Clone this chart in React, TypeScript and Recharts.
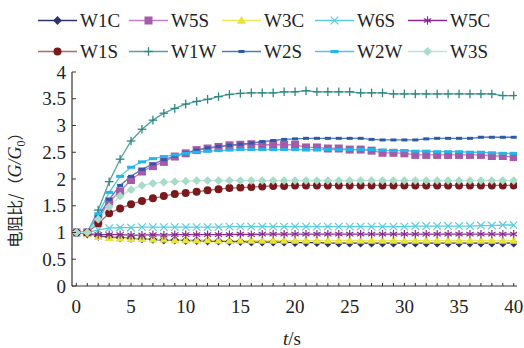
import React from 'react';
import { LineChart, Line, XAxis, YAxis } from 'recharts';

const T = [0,1,2,3,4,5,6,7,8,9,10,11,12,13,14,15,16,17,18,19,20,21,22,23,24,25,26,27,28,29,30,31,32,33,34,35,36,37,38,39,40];

const W1C = [1.00,0.97,0.93,0.92,0.90,0.89,0.88,0.87,0.86,0.86,0.85, 0.85,0.84,0.84,0.83,0.83,0.82,0.82,0.82,0.82,0.81, 0.81,0.81,0.80,0.80,0.80,0.80,0.80,0.80,0.80,0.80, 0.80,0.80,0.80,0.80,0.80,0.80,0.80,0.80,0.80,0.80];
const W5S = [1.00,1.00,1.25,1.58,1.77,1.98,2.14,2.24,2.32,2.42, 2.48,2.54,2.57,2.60,2.63,2.64,2.65,2.64,2.64,2.64, 2.64,2.59,2.59,2.57,2.57,2.55,2.55,2.53,2.49,2.49, 2.48,2.45,2.45,2.45,2.45,2.45,2.45,2.45,2.43,2.43,2.41];
const W3C = [1.00,0.97,0.92,0.90,0.89,0.88,0.88,0.87,0.87,0.86,0.86, 0.86,0.86,0.85,0.85,0.85,0.85,0.85,0.85,0.85,0.85, 0.85,0.85,0.85,0.85,0.85,0.85,0.85,0.85,0.85,0.85, 0.85,0.85,0.85,0.85,0.85,0.85,0.85,0.85,0.85,0.85];
const W6S = [1.00,1.00,1.05,1.08,1.09,1.09,1.10,1.10,1.10,1.10,1.10, 1.10,1.10,1.10,1.11,1.11,1.11,1.11,1.11,1.11,1.11, 1.11,1.11,1.11,1.11,1.11,1.11,1.11,1.11,1.11,1.11, 1.12,1.12,1.12,1.12,1.12,1.12,1.13,1.13,1.14,1.14];
const W5C = [1.00,0.98,0.96,0.96,0.96,0.95,0.95,0.96,0.95,0.96,0.96, 0.96,0.96,0.96,0.96,0.97,0.96,0.97,0.97,0.97,0.97, 0.97,0.97,0.97,0.97,0.97,0.97,0.97,0.97,0.97,0.97, 0.97,0.97,0.97,0.97,0.97,0.97,0.97,0.97,0.97,0.97];
const W1S = [1.00,1.00,1.17,1.36,1.45,1.53,1.59,1.64,1.68,1.72,1.74, 1.76,1.79,1.81,1.83,1.84,1.85,1.86,1.87,1.87,1.88, 1.88,1.88,1.88,1.88,1.88,1.88,1.88,1.88,1.88,1.88, 1.88,1.88,1.88,1.88,1.88,1.88,1.88,1.88,1.88,1.88];
const W1W = [1.00,1.00,1.42,1.95,2.37,2.71,2.93,3.10,3.23,3.32,3.40, 3.45,3.49,3.54,3.58,3.60,3.61,3.61,3.61,3.63,3.63, 3.65,3.63,3.63,3.63,3.63,3.61,3.61,3.61,3.59,3.59, 3.59,3.59,3.59,3.59,3.59,3.59,3.59,3.59,3.56,3.56];
const W2S = [1.00,1.00,1.30,1.62,1.88,2.05,2.18,2.28,2.36,2.43,2.49, 2.54,2.58,2.61,2.63,2.65,2.67,2.70,2.72,2.74,2.75, 2.76,2.76,2.76,2.76,2.76,2.76,2.74,2.73,2.73,2.73, 2.73,2.75,2.76,2.76,2.76,2.76,2.78,2.78,2.78,2.78];
const W2W = [1.00,1.00,1.35,1.75,2.05,2.22,2.32,2.38,2.42,2.45,2.48, 2.50,2.52,2.53,2.54,2.55,2.55,2.55,2.55,2.55,2.55, 2.55,2.55,2.55,2.55,2.55,2.55,2.55,2.54,2.53,2.53, 2.52,2.52,2.51,2.51,2.51,2.50,2.50,2.49,2.48,2.48];
const W3S = [1.00,1.00,1.25,1.48,1.68,1.80,1.88,1.92,1.94,1.95,1.96, 1.97,1.97,1.97,1.97,1.97,1.97,1.97,1.97,1.97,1.97, 1.97,1.97,1.97,1.97,1.97,1.97,1.97,1.97,1.97,1.97, 1.97,1.97,1.97,1.97,1.97,1.97,1.97,1.97,1.97,1.97];

const X_TICKS = T;
const X_LABEL_EVERY = 5;
const Y_TICKS = [0, 0.5, 1, 1.5, 2, 2.5, 3, 3.5, 4];

const FONT = "'Liberation Serif', serif";
const CJK = "'Noto Sans CJK SC', sans-serif";

type Shape = 'diamond' | 'square' | 'triangle' | 'x' | 'asterisk' | 'circle' | 'plus' | 'dash' | 'dashWide';

const SERIES: { name: string; values: number[]; line: string; marker: string; shape: Shape }[] = [
  { name: 'W1C', values: W1C, line: '#2e3566', marker: '#2e3566', shape: 'diamond' },
  { name: 'W5S', values: W5S, line: '#c47ccc', marker: '#a45ba8', shape: 'square' },
  { name: 'W3C', values: W3C, line: '#ece85a', marker: '#e8e23a', shape: 'triangle' },
  { name: 'W6S', values: W6S, line: '#5ccbdc', marker: '#5ccbdc', shape: 'x' },
  { name: 'W5C', values: W5C, line: '#8a2a8f', marker: '#8a2a8f', shape: 'asterisk' },
  { name: 'W1S', values: W1S, line: '#b06a6a', marker: '#7a1a1e', shape: 'circle' },
  { name: 'W1W', values: W1W, line: '#55a19c', marker: '#2f8783', shape: 'plus' },
  { name: 'W2S', values: W2S, line: '#5077c0', marker: '#2a5aa8', shape: 'dash' },
  { name: 'W2W', values: W2W, line: '#4cc6ee', marker: '#22b6ea', shape: 'dashWide' },
  { name: 'W3S', values: W3S, line: '#bde4d6', marker: '#a8dcc8', shape: 'diamond' },
];

const data = T.map((t, i) => {
  const row: Record<string, number> = { t };
  SERIES.forEach((s) => { row[s.name] = s.values[i]; });
  return row;
});

function Marker({ cx, cy, shape, color }: { cx: number; cy: number; shape: Shape; color: string }) {
  switch (shape) {
    case 'diamond': {
      const r = 4.4;
      return <polygon points={`${cx},${cy - r} ${cx + r},${cy} ${cx},${cy + r} ${cx - r},${cy}`} fill={color} />;
    }
    case 'square':
      return <rect x={cx - 4} y={cy - 4} width={8} height={8} fill={color} />;
    case 'triangle': {
      const r = 4.5;
      return <polygon points={`${cx},${cy - r} ${cx + r},${cy + r * 0.7} ${cx - r},${cy + r * 0.7}`} fill={color} />;
    }
    case 'x': {
      const r = 3.8;
      return (
        <g stroke={color} strokeWidth={1.2}>
          <line x1={cx - r} y1={cy - r} x2={cx + r} y2={cy + r} />
          <line x1={cx - r} y1={cy + r} x2={cx + r} y2={cy - r} />
        </g>
      );
    }
    case 'asterisk': {
      const r = 4.2;
      const a = r * 0.87;
      const b = r * 0.5;
      return (
        <g stroke={color} strokeWidth={1.2}>
          <line x1={cx} y1={cy - r} x2={cx} y2={cy + r} />
          <line x1={cx - a} y1={cy - b} x2={cx + a} y2={cy + b} />
          <line x1={cx - a} y1={cy + b} x2={cx + a} y2={cy - b} />
        </g>
      );
    }
    case 'circle':
      return <circle cx={cx} cy={cy} r={4} fill={color} />;
    case 'plus': {
      const r = 4.3;
      return (
        <g stroke={color} strokeWidth={1.3}>
          <line x1={cx - r} y1={cy} x2={cx + r} y2={cy} />
          <line x1={cx} y1={cy - r} x2={cx} y2={cy + r} />
        </g>
      );
    }
    case 'dash':
      return <rect x={cx - 3} y={cy - 1.5} width={6} height={3} fill={color} />;
    case 'dashWide':
      return <rect x={cx - 4} y={cy - 1.5} width={8} height={3} fill={color} />;
  }
  return null;
}

const XTick = (props: any) => {
  const { x, y, payload } = props;
  const v = payload.value as number;
  return (
    <g>
      <line x1={x} x2={x} y1={y} y2={y - 3} stroke="#333" strokeWidth={1} />
      {v % X_LABEL_EVERY === 0 ? (
        <text x={x} y={y + 27} textAnchor="middle" fontFamily={FONT} fontSize={19} fill="#222">{v}</text>
      ) : null}
    </g>
  );
};

const YTick = (props: any) => {
  const { x, y, payload } = props;
  const v = payload.value as number;
  return (
    <g>
      <line x1={x} x2={x + 4} y1={y} y2={y} stroke="#333" strokeWidth={1} />
      <text x={x - 6} y={y + 6.5} textAnchor="end" fontFamily={FONT} fontSize={19} fill="#222">{v}</text>
    </g>
  );
};

const LEG_COLS = [38, 129, 222, 315, 408];
const LEG_ROWS = [20.5, 51.5];

function LegendOverlay() {
  return (
    <svg width={524} height={70} style={{ position: 'absolute', left: 0, top: 0, pointerEvents: 'none' }}>
      {SERIES.map((s, i) => {
        const col = i % 5;
        const row = Math.floor(i / 5);
        const x0 = LEG_COLS[col];
        const y0 = LEG_ROWS[row];
        return (
          <g key={s.name}>
            <line x1={x0} x2={x0 + 39} y1={y0} y2={y0} stroke={s.line} strokeWidth={1.4} />
            <Marker cx={x0 + 19.5} cy={y0} shape={s.shape} color={s.marker} />
            <text x={x0 + 42} y={y0 + 6.5} fontFamily={FONT} fontSize={19} fill="#222">{s.name}</text>
          </g>
        );
      })}
    </svg>
  );
}

export default function App() {
  return (
    <div style={{ position: 'absolute', left: 0, top: 0, width: 524, height: 348, background: '#fff' }}>
      <LineChart width={524} height={348} data={data} margin={{ top: 72, right: 7, bottom: 32, left: 32 }}>
        <XAxis
          dataKey="t"
          type="number"
          domain={[-0.4, 40.3]}
          ticks={X_TICKS}
          interval={0}
          tickLine={false}
          tickSize={0}
          tickMargin={0}
          tick={<XTick />}
          axisLine={{ stroke: '#333', strokeWidth: 1.2 }}
          height={30}
          allowDataOverflow
        />
        <YAxis
          type="number"
          domain={[0, 4]}
          ticks={Y_TICKS}
          interval={0}
          tickLine={false}
          tickSize={0}
          tickMargin={0}
          tick={<YTick />}
          axisLine={{ stroke: '#333', strokeWidth: 1.2 }}
          width={40}
        />
        {SERIES.map((s) => (
          <Line
            key={s.name}
            dataKey={s.name}
            type="linear"
            stroke={s.line}
            strokeWidth={1.3}
            isAnimationActive={false}
            dot={(p: any) => <Marker key={`${s.name}-${p.index}`} cx={p.cx} cy={p.cy} shape={s.shape} color={s.marker} />}
            activeDot={false}
          />
        ))}
      </LineChart>
      <svg width={524} height={348} style={{ position: 'absolute', left: 0, top: 0, pointerEvents: 'none' }}>
        <text x={292} y={345} textAnchor="middle" fontFamily={FONT} fontSize={19} fill="#222">
          <tspan fontStyle="italic">t</tspan>
          <tspan>/s</tspan>
        </text>
        <text
          transform="translate(21,186) rotate(-90)"
          textAnchor="middle"
          fontFamily={FONT}
          fontSize={18}
          fill="#222"
        >
          <tspan fontFamily={CJK} fontSize={16}>电阻比/（</tspan>
          <tspan fontStyle="italic">G/G</tspan>
          <tspan fontSize={12} dy={4}>0</tspan>
          <tspan dy={-4} fontFamily={CJK} fontSize={16}>）</tspan>
        </text>
      </svg>
      <LegendOverlay />
    </div>
  );
}
